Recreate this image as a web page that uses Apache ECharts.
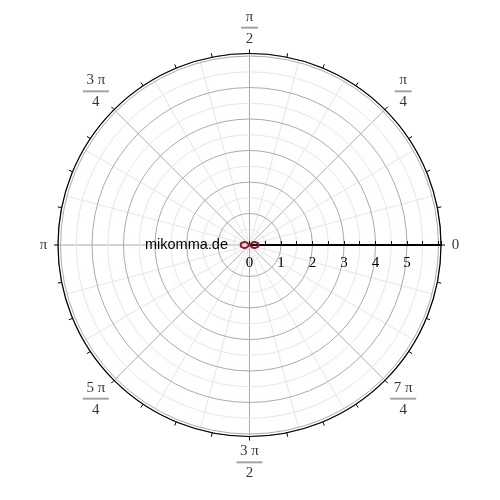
<!DOCTYPE html>
<html><head><meta charset="utf-8">
<script src="https://cdn.jsdelivr.net/npm/echarts@6/dist/echarts.min.js"></script>
<style>html,body{margin:0;padding:0;background:#fff}#c{width:500px;height:500px}</style>
</head><body><div id="c"></div>
<script>
// angle tick positions (degrees) and their labels (numerator / denominator)
const angleTicks = [0, 45, 90, 135, 180, 225, 270, 315];
const angleNum = ['0', 'π', 'π', '3 π', 'π', '5 π', '3 π', '7 π'];
const angleDen = ['', '4', '2', '4', '', '4', '2', '4'];
// radial tick labels
const radiusTicks = [0, 1, 2, 3, 4, 5];
// curve: right lobe and left lobe (r, angle in degrees)
const rightAngles = [-45, -40, -30, -20, -10, 0, 10, 20, 30, 40, 45];
const rightR      = [0, 0.12, 0.2, 0.25, 0.28, 0.29, 0.28, 0.25, 0.2, 0.12, 0];
const leftAngles  = [135, 140, 150, 160, 170, 180, 190, 200, 210, 220, 225];
const leftR       = [0, 0.12, 0.2, 0.25, 0.28, 0.29, 0.28, 0.25, 0.2, 0.12, 0];

const curveData = rightAngles.map((a, i) => [rightR[i], a])
  .concat(leftAngles.map((a, i) => [leftR[i], a]));

const FRAC_R = 6.9, SINGLE_R = 6.54;
const labelData = angleTicks.map((a, i) => [angleDen[i] ? FRAC_R : SINGLE_R, a]);

const serif = 'Liberation Serif';
const chart = echarts.init(document.getElementById('c'), null, {renderer: 'canvas'});
const CENTER = [249.5, 245], RADIUS = 191.5, RMAX = 6.08;
chart.setOption({
  animation: false,
  backgroundColor: '#fff',
  polar: [{center: CENTER, radius: RADIUS}, {center: CENTER, radius: RADIUS}],
  angleAxis: [{
    polarIndex: 0, type: 'value', min: 0, max: 360, interval: 45,
    startAngle: 0, clockwise: false,
    axisLine: {show: false},
    axisTick: {show: false}, axisLabel: {show: false},
    splitLine: {show: true, lineStyle: {color: '#ababab', width: 1}},
    minorTick: {show: false, splitNumber: 3},
    minorSplitLine: {show: true, lineStyle: {color: '#eee2e5', width: 1}}
  }, {
    polarIndex: 1, type: 'value', min: 0, max: 360, interval: 11.25,
    startAngle: 0, clockwise: false, z: 20,
    axisLine: {show: true, lineStyle: {color: '#000', width: 1.2}},
    axisTick: {show: true, length: 4, lineStyle: {color: '#000', width: 1}},
    axisLabel: {show: false}, splitLine: {show: false}
  }],
  radiusAxis: [{
    polarIndex: 0, type: 'value', min: 0, max: RMAX, interval: 1,
    axisLine: {show: true, lineStyle: {color: '#000', width: 2}},
    axisTick: {show: true, length: 4, lineStyle: {color: '#000'}},
    minorTick: {show: true, splitNumber: 2, length: 4, lineStyle: {color: '#000'}},
    axisLabel: {
      margin: -26, color: '#000', fontFamily: serif, fontSize: 15,
      formatter: v => radiusTicks.includes(v) ? String(v) : ''
    },
    splitLine: {show: true, lineStyle: {color: '#ababab', width: 1}},
    minorSplitLine: {show: true, lineStyle: {color: '#eee2e5', width: 1}},
    z: 5
  }, {
    polarIndex: 1, type: 'value', min: 0, max: RMAX, show: false
  }],
  graphic: [{
    type: 'text', x: 228, y: 245,
    style: {text: 'mikomma.de', font: '14.5px "Liberation Sans", Arial, sans-serif',
            fill: '#000', align: 'right', verticalAlign: 'middle'},
    z: 10
  }],
  series: [{
    type: 'line', coordinateSystem: 'polar', polarIndex: 0,
    data: curveData, symbol: 'none', smooth: false,
    lineStyle: {color: '#8b1a2a', width: 2}, z: 10
  }, {
    type: 'scatter', coordinateSystem: 'polar', polarIndex: 0, clip: false,
    data: labelData, symbolSize: 0, silent: true,
    label: {
      show: true, position: 'inside',
      formatter: p => {
        const i = p.dataIndex;
        if (!angleDen[i]) return '{s|' + angleNum[i] + '}';
        const bar = angleNum[i].length > 1 ? 'bw' : 'bn';
        return '{n|' + angleNum[i] + '}\n{' + bar + '|}\n{n|' + angleDen[i] + '}';
      },
      rich: {
        s: {fontFamily: serif, fontSize: 15, color: '#000', align: 'center'},
        n: {fontFamily: serif, fontSize: 15, color: '#000', lineHeight: 15, align: 'center'},
        bn: {width: 17, height: 2, lineHeight: 7, backgroundColor: '#8c8c8c', align: 'center'},
        bw: {width: 26, height: 2, lineHeight: 7, backgroundColor: '#8c8c8c', align: 'center'}
      }
    }
  }]
});
</script></body></html>
